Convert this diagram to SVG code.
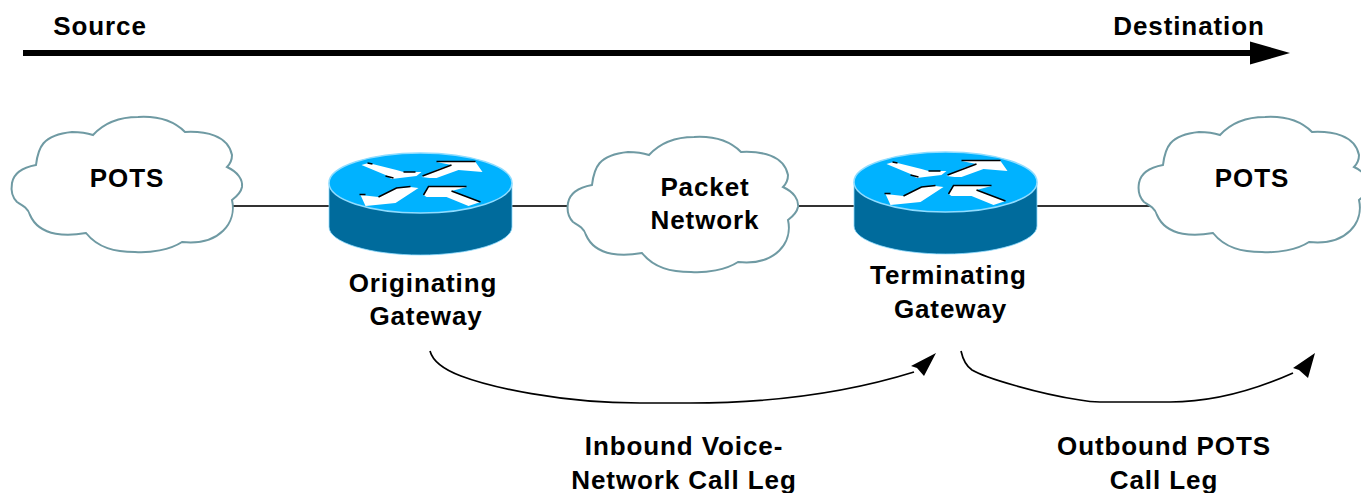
<svg xmlns="http://www.w3.org/2000/svg" width="1361" height="493" viewBox="0 0 1361 493">
<style>
.t{font-family:"Liberation Sans",Arial,sans-serif;font-size:26px;font-weight:bold;fill:#000;text-anchor:middle;letter-spacing:.9px}
.cloud{fill:#fff;stroke:#6f9aa3;stroke-width:2}
.link{stroke:#333;stroke-width:2;fill:none}
.arc{stroke:#000;stroke-width:1.7;fill:none}
.side{fill:#006b9c;stroke:#8fdcff;stroke-width:.8}
.top{fill:#00b2ff;stroke:#8fdcff;stroke-width:1.5}
.w{fill:#fff}
.e{fill:none;stroke:#000;stroke-width:1.5}
</style>
<defs>
<path id="cloudShape" d="M93 135C105 122 120 117 138 117C155 116 173 120 185 132C205 131 228 135 232 155Q232 162 227 167C238 172 243 180 242 187C241 192 236 197 232 200C237 222 220 246 182 242C170 250 150 253 135 252C115 252 98 248 86 233C70 236 40 238 30 215C28 208 22 205 17 202Q10 195 12 183C14 172 25 167 36 165C38 148 42 135 72 132Q84 132 93 135Z"/>
<g id="router">
<path class="side" d="M-91.500 0V44A91.500 28 0 0 0 91.500 44V0Z"/>
<ellipse class="top" cx="0" cy="0" rx="91.500" ry="30"/>
<path class="w" d="M-59-18L-52-20L-24-13L-17-11L1-11L-4-7L-29-4L-35-8Z"/>
<path class="e" d="M-53-20L-48-19M-17-11L-5-11M-35-7L-27-5"/>
<path class="w" d="M1-6L18-14L31-18L16-21L55-21L62-11L38-13L16-5L9-5Z"/>
<path class="e" d="M16-21.500H55M2-7L31-18"/>
<path class="w" d="M-60 12L-42 14L-24 5L-10 4L-2 5L-25 20L-55 23Z"/>
<path class="e" d="M-61 11.500L-55 11.500M-42 14L-24 5L-10 3.500"/>
<path class="w" d="M3 12L8 4L46 4L31 8L60 19L48 23L26 14L6 14Z"/>
<path class="e" d="M3 12L8 3.500H46M31 8L60 19"/>
</g>
<marker id="big" markerUnits="userSpaceOnUse" markerWidth="42" markerHeight="24" refX="1" refY="12" orient="auto"><path d="M0 0.500L40 12L0 23.500Z" fill="#000"/></marker>
</defs>
<g id="connectors">
<path class="link" d="M233 206H330M511 206H570M798 206H855M1036 206H1151"/>
<path d="M23 53H1251" stroke="#000" stroke-width="6" fill="none" marker-end="url(#big)"/>
<path class="arc" d="M430 351C433 362 445 370 461 376C490 387 560 403 640 403H690C760 403 840 395 914 372"/>
<path d="M936 353L911 366L917 368L924 376Z" fill="#000"/>
<path class="arc" d="M961 351C963 360 966 366 972 370C985 378 1040 394 1080 400Q1090 402 1100 402H1170C1215 402 1255 390 1293 373"/>
<path d="M1315 353L1293 368L1299 370L1308 378Z" fill="#000"/>
</g>
<g id="source"><text class="t" x="100" y="35">Source</text></g>
<g id="destination"><text class="t" x="1189" y="35">Destination</text></g>
<g id="pots-left">
<use href="#cloudShape" class="cloud"/>
<text class="t" x="127" y="187">POTS</text>
</g>
<g id="packet-network">
<use href="#cloudShape" class="cloud" x="556" y="20"/>
<text class="t" x="705" y="196">Packet</text>
<text class="t" x="705" y="229">Network</text>
</g>
<g id="pots-right">
<use href="#cloudShape" class="cloud" x="1127" y="0"/>
<text class="t" x="1252" y="187">POTS</text>
</g>
<g id="originating-gateway">
<use href="#router" x="420.500" y="183"/>
<text class="t" x="423" y="292">Originating</text>
<text class="t" x="426" y="325">Gateway</text>
</g>
<g id="terminating-gateway">
<use href="#router" x="945.500" y="182"/>
<text class="t" x="948.500" y="284">Terminating</text>
<text class="t" x="950.500" y="318">Gateway</text>
</g>
<g id="inbound-label">
<text class="t" x="684" y="455">Inbound Voice-</text>
<text class="t" x="684" y="489">Network Call Leg</text>
</g>
<g id="outbound-label">
<text class="t" x="1164" y="455">Outbound POTS</text>
<text class="t" x="1164" y="489">Call Leg</text>
</g>
</svg>
